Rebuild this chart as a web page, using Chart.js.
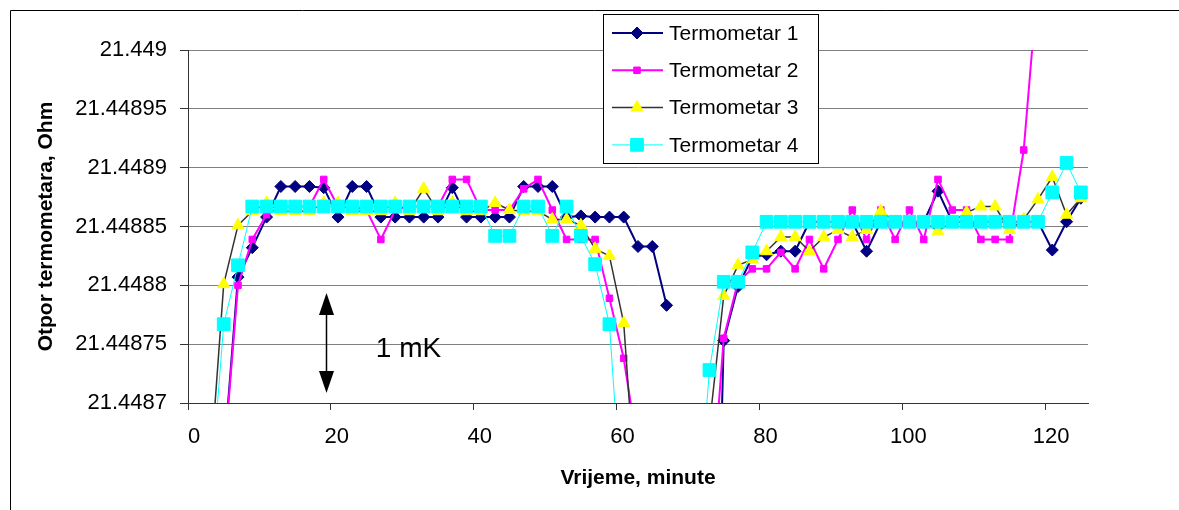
<!DOCTYPE html>
<html>
<head>
<meta charset="utf-8">
<title>Otpor termometara</title>
<script src="https://cdn.jsdelivr.net/npm/chart.js@4.4.1/dist/chart.umd.min.js"></script>
<style>
  html, body { margin: 0; padding: 0; background: #fff; }
  #wrap { position: relative; width: 1179px; height: 510px; }
</style>
</head>
<body>
<div id="wrap"><canvas id="chart" width="1179" height="510"></canvas></div>
<script>
// Time axis (minutes) and tick values
const minutes = [3, 5, 7, 9, 11, 13, 15, 17, 19, 21, 23, 25, 27, 29, 31, 33, 35, 37, 39, 41,
  43, 45, 47, 49, 51, 53, 55, 57, 59, 61, 63, 65, 67, 69, 71, 73, 75, 77, 79, 81,
  83, 85, 87, 89, 91, 93, 95, 97, 99, 101, 103, 105, 107, 109, 111, 113, 115, 117, 119, 121,
  123, 125];
const xTicks = [0, 20, 40, 60, 80, 100, 120];
const yTicks = [21.4487, 21.44875, 21.4488, 21.44885, 21.4489, 21.44895, 21.449];

// Resistance readings, Ohm (null = no reading / gap)
const termometar1 = [null, 21.448653, 21.448807, 21.448832, 21.448858, 21.448884, 21.448884, 21.448884, 21.448883, 21.448858,
  21.448884, 21.448884, 21.448858, 21.448858, 21.448858, 21.448858, 21.448858, 21.448883, 21.448858, 21.448858,
  21.448858, 21.448858, 21.448884, 21.448884, 21.448884, 21.448858, 21.448859, 21.448858, 21.448858, 21.448858,
  21.448833, 21.448833, 21.448783, null, null, 21.448275, 21.448753, 21.448799, 21.448824, 21.448826,
  21.448829, 21.448829, 21.448854, 21.448854, 21.448854, 21.448854, 21.448829, 21.448854, 21.448854, 21.448854,
  21.448854, 21.448880, 21.448854, 21.448854, 21.448854, 21.448854, 21.448854, 21.448854, 21.448854, 21.448830,
  21.448854, 21.448874];
const termometar2 = [null, 21.448650, 21.448800, 21.448839, 21.448860, 21.448867, 21.448867, 21.448867, 21.448890, 21.448867,
  21.448867, 21.448864, 21.448839, 21.448864, 21.448867, 21.448867, 21.448867, 21.448890, 21.448890, 21.448864,
  21.448864, 21.448864, 21.448882, 21.448890, 21.448864, 21.448839, 21.448839, 21.448839, 21.448789, 21.448738,
  21.448660, null, null, null, null, 21.448592, 21.448755, 21.448803, 21.448814, 21.448814,
  21.448828, 21.448814, 21.448839, 21.448814, 21.448839, 21.448864, 21.448839, 21.448864, 21.448839, 21.448864,
  21.448839, 21.448890, 21.448864, 21.448864, 21.448839, 21.448839, 21.448839, 21.448915, 21.449060, null,
  null, null];
const termometar3 = [21.448634, 21.448801, 21.448851, 21.448863, 21.448870, 21.448863, 21.448863, 21.448863, 21.448870, 21.448870,
  21.448863, 21.448863, 21.448863, 21.448870, 21.448863, 21.448882, 21.448863, 21.448870, 21.448863, 21.448863,
  21.448870, 21.448864, 21.448863, 21.448863, 21.448856, 21.448856, 21.448851, 21.448831, 21.448825, 21.448768,
  21.448596, null, null, null, null, 21.448681, 21.448791, 21.448817, 21.448822, 21.448829,
  21.448841, 21.448841, 21.448829, 21.448841, 21.448847, 21.448841, 21.448847, 21.448863, 21.448854, 21.448854,
  21.448854, 21.448846, 21.448854, 21.448862, 21.448867, 21.448867, 21.448847, 21.448856, 21.448873, 21.448892,
  21.448860, 21.448874];
const termometar4 = [21.448612, 21.448767, 21.448817, 21.448867, 21.448867, 21.448867, 21.448867, 21.448867, 21.448867, 21.448867,
  21.448867, 21.448867, 21.448867, 21.448867, 21.448867, 21.448867, 21.448867, 21.448867, 21.448867, 21.448867,
  21.448842, 21.448842, 21.448867, 21.448867, 21.448842, 21.448867, 21.448842, 21.448818, 21.448767, 21.448588,
  null, null, null, null, 21.448569, 21.448728, 21.448803, 21.448803, 21.448828, 21.448854,
  21.448854, 21.448854, 21.448854, 21.448854, 21.448854, 21.448854, 21.448854, 21.448854, 21.448854, 21.448854,
  21.448854, 21.448854, 21.448854, 21.448854, 21.448854, 21.448854, 21.448854, 21.448854, 21.448854, 21.448879,
  21.448904, 21.448879];

const seriesNames = ['Termometar 1', 'Termometar 2', 'Termometar 3', 'Termometar 4'];

const FONT = "'Liberation Sans', Arial, sans-serif";

const toPoints = arr => minutes.map((m, i) => ({ x: m, y: arr[i] }));

// Outer frame of the chart object
const framePlugin = {
    id: 'frame',
    beforeDraw(chart) {
        const ctx = chart.ctx;
        ctx.save();
        ctx.fillStyle = '#fff';
        ctx.fillRect(0, 0, chart.width, chart.height);
        ctx.strokeStyle = '#000';
        ctx.lineWidth = 1;
        ctx.beginPath();
        ctx.moveTo(10.5, chart.height);
        ctx.lineTo(10.5, 10.5);
        ctx.lineTo(chart.width, 10.5);
        ctx.stroke();
        ctx.restore();
    }
};

// "1 mK" double arrow
const arrowPlugin = {
    id: 'mkArrow',
    afterDatasetsDraw(chart) {
        const { ctx, scales: { x, y } } = chart;
        const ax = Math.round(x.getPixelForValue(19.3)) + 0.5;
        const top = y.getPixelForValue(21.4487935);
        const bot = y.getPixelForValue(21.4487085);
        const head = 22, half = 7.5;
        ctx.save();
        ctx.strokeStyle = '#000';
        ctx.fillStyle = '#000';
        ctx.lineWidth = 1.5;
        ctx.beginPath();
        ctx.moveTo(ax, top + head);
        ctx.lineTo(ax, bot - head);
        ctx.stroke();
        ctx.beginPath();
        ctx.moveTo(ax, top);
        ctx.lineTo(ax - half, top + head);
        ctx.lineTo(ax + half, top + head);
        ctx.closePath();
        ctx.fill();
        ctx.beginPath();
        ctx.moveTo(ax, bot);
        ctx.lineTo(ax - half, bot - head);
        ctx.lineTo(ax + half, bot - head);
        ctx.closePath();
        ctx.fill();
        ctx.font = '28px ' + FONT;
        ctx.textAlign = 'left';
        ctx.textBaseline = 'alphabetic';
        ctx.fillText('1 mK', x.getPixelForValue(26.3), y.getPixelForValue(21.448739));
        ctx.restore();
    }
};

// Boxed legend in the upper middle
const legendPlugin = {
    id: 'boxLegend',
    afterDraw(chart) {
        const ctx = chart.ctx;
        const box = { left: 603.5, top: 14.5, width: 215, height: 149 };
        ctx.save();
        ctx.fillStyle = '#fff';
        ctx.fillRect(box.left, box.top, box.width, box.height);
        ctx.strokeStyle = '#000';
        ctx.lineWidth = 1;
        ctx.strokeRect(box.left, box.top, box.width, box.height);
        chart.data.datasets.forEach((ds, i) => {
            const cy = 33 + i * 37.3;
            ctx.strokeStyle = ds.borderColor;
            ctx.lineWidth = ds.borderWidth;
            ctx.beginPath();
            ctx.moveTo(612, cy);
            ctx.lineTo(663, cy);
            ctx.stroke();
            ctx.fillStyle = ds.pointBackgroundColor;
            ctx.strokeStyle = ds.pointBorderColor;
            ctx.lineWidth = 1;
            Chart.helpers.drawPoint(ctx, {
                pointStyle: ds.pointStyle,
                radius: ds.pointRadius,
                rotation: 0,
                borderWidth: 1
            }, 637, cy);
            ctx.fillStyle = '#000';
            ctx.font = '21px ' + FONT;
            ctx.textAlign = 'left';
            ctx.textBaseline = 'middle';
            ctx.fillText(ds.label, 669, cy + 1);
        });
        ctx.restore();
    }
};

function makeDataset(label, data, line, lineWidth, fill, style, radius, order) {
    return {
        label: label,
        data: toPoints(data),
        borderColor: line,
        borderWidth: lineWidth,
        pointStyle: style,
        pointRadius: radius,
        pointHoverRadius: radius,
        pointBackgroundColor: fill,
        pointBorderColor: fill,
        pointBorderWidth: 1,
        tension: 0,
        spanGaps: false,
        order: order
    };
}

const ctx = document.getElementById('chart');

new Chart(ctx, {
    type: 'line',
    data: {
        datasets: [
            makeDataset(seriesNames[0], termometar1, '#000080', 2, '#000080', 'rectRot', 6, 4),
            makeDataset(seriesNames[1], termometar2, '#FF00FF', 2, '#FF00FF', 'rect', 4.6, 3),
            makeDataset(seriesNames[2], termometar3, '#333333', 1.5, '#FFFF00', 'triangle', 7, 2),
            makeDataset(seriesNames[3], termometar4, '#00FFFF', 1, '#00FFFF', 'rect', 9, 1)
        ]
    },
    options: {
        responsive: false,
        animation: false,
        devicePixelRatio: 1,
        layout: { padding: { top: 50, right: 91, left: 0, bottom: 0 } },
        plugins: {
            legend: { display: false },
            tooltip: { enabled: false }
        },
        scales: {
            x: {
                type: 'linear',
                min: 0,
                max: 126,
                afterBuildTicks: scale => { scale.ticks = xTicks.map(v => ({ value: v })); },
                afterFit: scale => { scale.height = 107; },
                grid: { drawOnChartArea: false, tickLength: 7, tickColor: '#333', lineWidth: 1 },
                border: { color: '#333', width: 1 },
                ticks: {
                    color: '#000',
                    padding: 14,
                    labelOffset: 6,
                    maxRotation: 0,
                    autoSkip: false,
                    font: { family: FONT, size: 22 }
                },
                title: {
                    display: true,
                    text: 'Vrijeme, minute',
                    color: '#000',
                    font: { family: FONT, size: 21, weight: 'bold' },
                    padding: { top: 0, bottom: 19 }
                }
            },
            y: {
                type: 'linear',
                min: 21.4487,
                max: 21.449,
                afterBuildTicks: scale => { scale.ticks = yTicks.map(v => ({ value: v })); },
                afterFit: scale => { scale.width = 188; },
                grid: { color: '#808080', tickColor: '#333', tickLength: 8, lineWidth: 1 },
                border: { color: '#333', width: 1 },
                ticks: {
                    color: '#000',
                    padding: 13,
                    autoSkip: false,
                    font: { family: FONT, size: 22 },
                    callback: v => String(+v.toFixed(6))
                },
                title: {
                    display: true,
                    text: 'Otpor termometara, Ohm',
                    color: '#000',
                    font: { family: FONT, size: 21, weight: 'bold' },
                    padding: { top: 34, bottom: 0 }
                }
            }
        }
    },
    plugins: [framePlugin, arrowPlugin, legendPlugin]
});
</script>
</body>
</html>
